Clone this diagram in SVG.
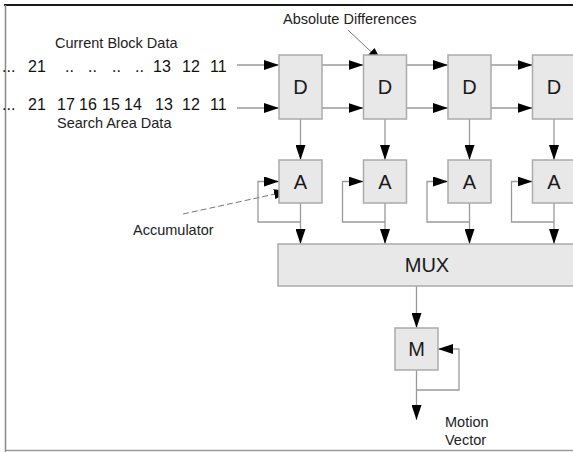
<svg xmlns="http://www.w3.org/2000/svg" width="573" height="452" viewBox="0 0 573 452">
<style>
.box{fill:#e8e8e8;stroke:#ababab;stroke-width:1.5}
.ln{fill:none;stroke:#9a9a9a;stroke-width:1.3}
.big{font-family:"Liberation Sans",Arial,sans-serif;font-size:20px;fill:#1a1a1a;text-anchor:middle}
.lbl{font-family:"Liberation Sans",Arial,sans-serif;font-size:14.5px;fill:#222}
.num{font-family:"Liberation Sans",Arial,sans-serif;font-size:16px;fill:#111}
</style>
<defs>
<marker id="ah" markerUnits="userSpaceOnUse" markerWidth="15" markerHeight="10" refX="15" refY="5" orient="auto">
<path d="M0,0 L15,5 L0,10 z" fill="#000"/>
</marker>
</defs>
<rect width="573" height="452" fill="#fff"/>
<g id="frame">
<line x1="4" y1="5" x2="573" y2="5" stroke="#1a1a1a" stroke-width="2.2"/>
<line x1="5.5" y1="5" x2="5.5" y2="452" stroke="#888" stroke-width="1.5"/>
<line x1="5" y1="450.5" x2="573" y2="450.5" stroke="#999" stroke-width="1.3"/>
</g>
<g id="labels">
<text class="lbl" x="55" y="48">Current Block Data</text>
<text class="lbl" x="57" y="128">Search Area Data</text>
<text class="lbl" x="283" y="24">Absolute Differences</text>
<text class="lbl" x="133" y="235">Accumulator</text>
<text class="lbl" x="445" y="427">Motion</text>
<text class="lbl" x="445" y="445">Vector</text>
<text class="num" y="72"><tspan x="2">...</tspan><tspan x="28">21</tspan><tspan x="65">..</tspan><tspan x="88">..</tspan><tspan x="112">..</tspan><tspan x="135">..</tspan><tspan x="153">13</tspan><tspan x="182">12</tspan><tspan x="210">11</tspan></text>
<text class="num" y="110"><tspan x="2">...</tspan><tspan x="28">21</tspan><tspan x="57">17</tspan><tspan x="79">16</tspan><tspan x="102">15</tspan><tspan x="124">14</tspan><tspan x="155">13</tspan><tspan x="182">12</tspan><tspan x="210">11</tspan></text>
</g>
<g id="connectors">
<line class="ln" x1="237" y1="65" x2="279" y2="65" marker-end="url(#ah)"/>
<line class="ln" x1="237" y1="108" x2="279" y2="108" marker-end="url(#ah)"/>
<line class="ln" x1="322" y1="65" x2="363.5" y2="65" marker-end="url(#ah)"/>
<line class="ln" x1="322" y1="108" x2="363.5" y2="108" marker-end="url(#ah)"/>
<line class="ln" x1="406.5" y1="65" x2="448" y2="65" marker-end="url(#ah)"/>
<line class="ln" x1="406.5" y1="108" x2="448" y2="108" marker-end="url(#ah)"/>
<line class="ln" x1="491" y1="65" x2="532.5" y2="65" marker-end="url(#ah)"/>
<line class="ln" x1="491" y1="108" x2="532.5" y2="108" marker-end="url(#ah)"/>
<line class="ln" x1="300.5" y1="119" x2="300.5" y2="160" marker-end="url(#ah)"/>
<line class="ln" x1="385" y1="119" x2="385" y2="160" marker-end="url(#ah)"/>
<line class="ln" x1="469.5" y1="119" x2="469.5" y2="160" marker-end="url(#ah)"/>
<line class="ln" x1="554" y1="119" x2="554" y2="160" marker-end="url(#ah)"/>
<line class="ln" x1="300.5" y1="203" x2="300.5" y2="244" marker-end="url(#ah)"/>
<line class="ln" x1="385" y1="203" x2="385" y2="244" marker-end="url(#ah)"/>
<line class="ln" x1="469.5" y1="203" x2="469.5" y2="244" marker-end="url(#ah)"/>
<line class="ln" x1="554" y1="203" x2="554" y2="244" marker-end="url(#ah)"/>
<path class="ln" d="M300.5,222 H258 V181.5 H279" marker-end="url(#ah)"/>
<path class="ln" d="M385,222 H342.5 V181.5 H363.5" marker-end="url(#ah)"/>
<path class="ln" d="M469.5,222 H427 V181.5 H448" marker-end="url(#ah)"/>
<path class="ln" d="M554,222 H511.5 V181.5 H532.5" marker-end="url(#ah)"/>
<line class="ln" x1="416.5" y1="286" x2="416.5" y2="328" marker-end="url(#ah)"/>
<line class="ln" x1="416.5" y1="370" x2="416.5" y2="420" marker-end="url(#ah)"/>
<path class="ln" d="M416.5,390 H459 V349 H438" marker-end="url(#ah)"/>
<line x1="348" y1="30" x2="382" y2="62" stroke="#777" stroke-width="1" marker-end="url(#ah)"/>
<line x1="183" y1="214" x2="289" y2="191" stroke="#777" stroke-width="1" stroke-dasharray="6,3" marker-end="url(#ah)"/>
</g>
<g id="D1"><rect class="box" x="279" y="55" width="43" height="64"/><text class="big" x="300.5" y="94">D</text></g>
<g id="D2"><rect class="box" x="363.5" y="55" width="43" height="64"/><text class="big" x="385" y="94">D</text></g>
<g id="D3"><rect class="box" x="448" y="55" width="43" height="64"/><text class="big" x="469.5" y="94">D</text></g>
<g id="D4"><rect class="box" x="532.5" y="55" width="43" height="64"/><text class="big" x="554" y="94">D</text></g>
<g id="A1"><rect class="box" x="279" y="160" width="43" height="43"/><text class="big" x="300.5" y="189">A</text></g>
<g id="A2"><rect class="box" x="363.5" y="160" width="43" height="43"/><text class="big" x="385" y="189">A</text></g>
<g id="A3"><rect class="box" x="448" y="160" width="43" height="43"/><text class="big" x="469.5" y="189">A</text></g>
<g id="A4"><rect class="box" x="532.5" y="160" width="43" height="43"/><text class="big" x="554" y="189">A</text></g>
<g id="MUX"><rect class="box" x="278" y="244" width="300" height="42"/><text class="big" x="427" y="272">MUX</text></g>
<g id="M"><rect class="box" x="395" y="328" width="43" height="42"/><text class="big" x="416.5" y="356">M</text></g>
</svg>
